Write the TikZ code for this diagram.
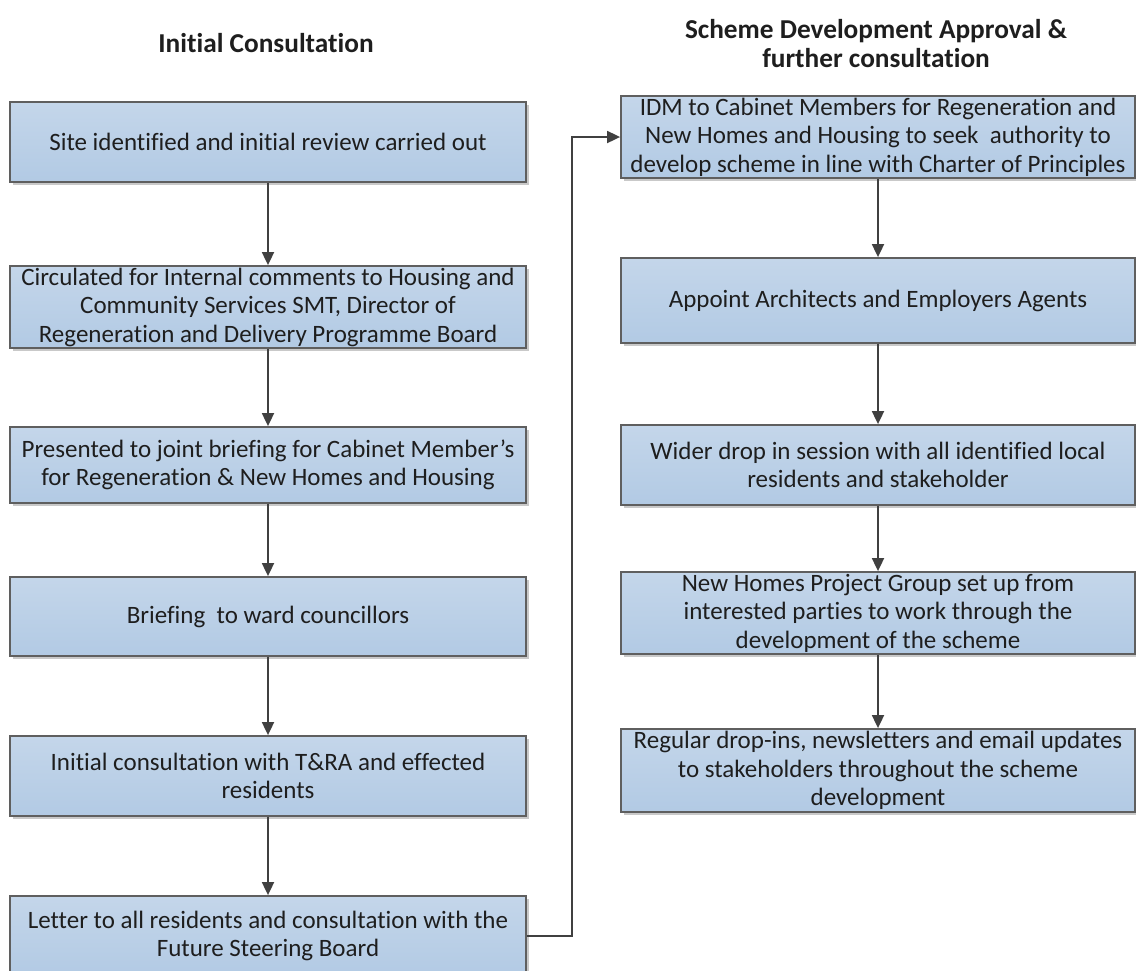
\documentclass[tikz,border=0pt]{standalone}
\usepackage{fontspec}
\setmainfont{Carlito}[Ligatures=NoCommon]
\usetikzlibrary{arrows.meta,shadows}
\definecolor{boxtop}{RGB}{196,214,234}
\definecolor{boxbot}{RGB}{178,202,228}
\definecolor{boxline}{RGB}{95,95,95}
\definecolor{arrowc}{RGB}{64,64,64}
\definecolor{textc}{RGB}{30,30,30}
\tikzset{
  flowbox/.style={draw=boxline, line width=1.8pt, top color=boxtop, bottom color=boxbot,
    inner sep=0pt, align=center, font=\fontsize{25}{28.5}\selectfont, text=textc,
    drop shadow={shadow xshift=2.5pt, shadow yshift=-3pt, fill=black!35, opacity=0.6}},
  leftbox/.style={flowbox, minimum width=516pt},
  rightbox/.style={flowbox, minimum width=514pt},
  flowarrow/.style={draw=arrowc, line width=1.8pt, -{Triangle[length=13pt,width=12pt]}},
  titletext/.style={font=\bfseries\fontsize{27.3}{29}\selectfont, align=center, text=textc}
}
\begin{document}
\begin{tikzpicture}[x=1pt,y=-1pt]
\clip (0,0) rectangle (1136,970);
\fill[white] (0,0) rectangle (1136,970);
% titles
\node[titletext] (t1) at (266,43) {Initial Consultation};
\node[titletext] (t2) at (876,44) {Scheme Development Approval \&\\further consultation};
% left column
\node[leftbox, minimum height=80pt] (l1) at (268,142) {Site identified and initial review carried out};
\node[leftbox, minimum height=82pt] (l2) at (268,307) {Circulated for Internal comments to Housing and\\Community Services SMT, Director of\\Regeneration and Delivery Programme Board};
\node[leftbox, minimum height=76pt] (l3) at (268,465) {Presented to joint briefing for Cabinet Member’s\\for Regeneration \& New Homes and Housing};
\node[leftbox, minimum height=79pt] (l4) at (268,616.5) {Briefing~ to ward councillors};
\node[leftbox, minimum height=80pt] (l5) at (268,776) {Initial consultation with T\&RA and effected\\residents};
\node[leftbox, minimum height=80pt] (l6) at (268,936) {Letter to all residents and consultation with the\\Future Steering Board};
% right column
\node[rightbox, minimum height=82pt] (r1) at (878,137) {IDM to Cabinet Members for Regeneration and\\New Homes and Housing to seek~ authority to\\develop scheme in line with Charter of Principles};
\node[rightbox, minimum height=85pt] (r2) at (878,300.5) {Appoint Architects and Employers Agents};
\node[rightbox, minimum height=80pt] (r3) at (878,465) {Wider drop in session with all identified local\\residents and stakeholder};
\node[rightbox, minimum height=82pt] (r4) at (878,613) {New Homes Project Group set up from\\interested parties to work through the\\development of the scheme};
\node[rightbox, minimum height=83pt] (r5) at (878,770.5) {Regular drop-ins, newsletters and email updates\\to stakeholders throughout the scheme\\development};
% connectors
\draw[flowarrow] (l1) -- (l2);
\draw[flowarrow] (l2) -- (l3);
\draw[flowarrow] (l3) -- (l4);
\draw[flowarrow] (l4) -- (l5);
\draw[flowarrow] (l5) -- (l6);
\draw[flowarrow] (l6.east) -- ++(45,0) |- (r1.west);
\draw[flowarrow] (r1) -- (r2);
\draw[flowarrow] (r2) -- (r3);
\draw[flowarrow] (r3) -- (r4);
\draw[flowarrow] (r4) -- (r5);
\end{tikzpicture}
\end{document}
